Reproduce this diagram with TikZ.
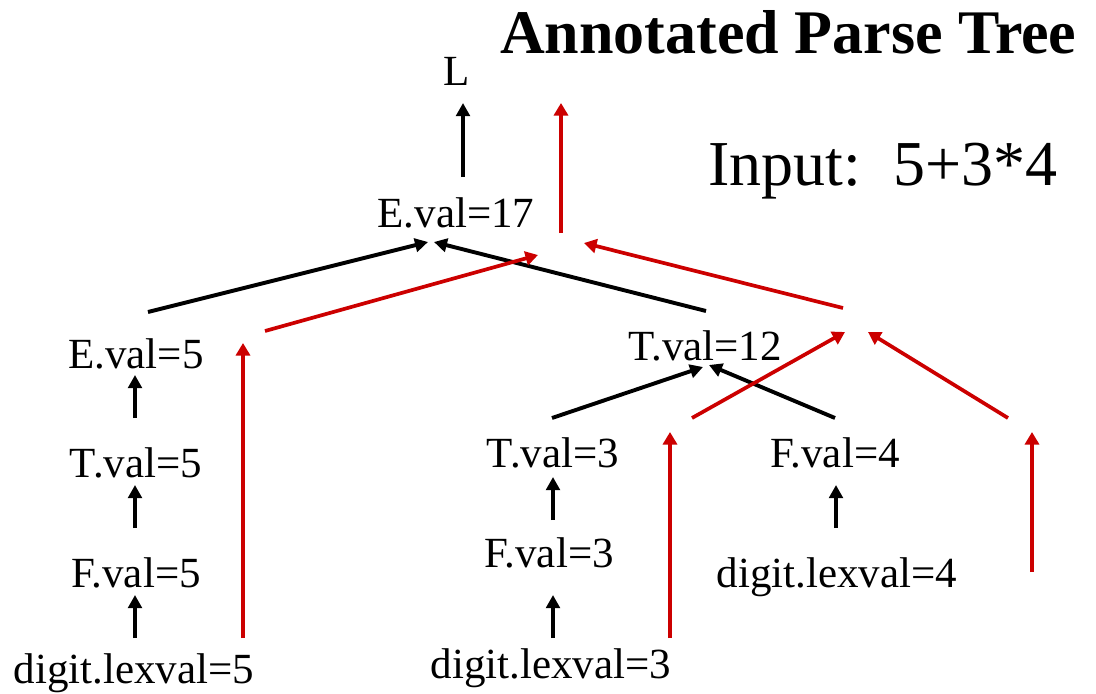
\documentclass[tikz,border=0pt]{standalone}
\usepackage{fontspec}
\setmainfont{Liberation Serif}
\usetikzlibrary{arrows.meta}
\definecolor{pred}{HTML}{CC0000}
\begin{document}
\begin{tikzpicture}[x=1pt,y=-1pt,
  lbl/.style={inner sep=0pt,outer sep=0pt,anchor=base,font=\fontsize{43}{50}\selectfont,text height=29pt,text depth=0pt},
  blk/.style={line width=3.9pt,-{Triangle[length=13pt,width=13.5pt]}},
  redarr/.style={draw=pred,line width=3.7pt,-{Triangle[length=12.5pt,width=14pt]}}]
\useasboundingbox[fill=white] (0,0) rectangle (1096,694);
% titles
\node[anchor=base west,inner sep=0pt,font=\bfseries\fontsize{62}{70}\selectfont] (title) at (500,53) {Annotated Parse Tree};
\node[anchor=base west,inner sep=0pt,font=\fontsize{64}{70}\selectfont] (input) at (708,185) {Input:\ \ 5+3*4};
% nodes
\node[lbl] (L) at (457,85) {L};
\node[lbl] (e17) at (456,227) {E.val=17};
\node[lbl] (e5) at (136,368) {E.val=5};
\node[lbl] (t5) at (136,477) {T.val=5};
\node[lbl] (f5) at (136,587) {F.val=5};
\node[lbl] (d5) at (134,683) {digit.lexval=5};
\node[lbl] (t12) at (705,360) {T.val=12};
\node[lbl] (t3) at (553,467) {T.val=3};
\node[lbl] (f3) at (549,567) {F.val=3};
\node[lbl] (d3) at (551,678) {digit.lexval=3};
\node[lbl] (f4) at (835,467) {F.val=4};
\node[lbl] (d4) at (837,587) {digit.lexval=4};
% black tree edges
\draw[blk] ([xshift=7pt,yshift=21pt]e17.north) -- ([xshift=6pt,yshift=-18pt]L.south);
\draw[blk] ([xshift=1pt,yshift=16pt]d5.north) -- ([xshift=-1pt,yshift=-8pt]f5.south);
\draw[blk] ([xshift=-1pt,yshift=30pt]f5.north) -- ([xshift=-1pt,yshift=-8pt]t5.south);
\draw[blk] ([xshift=-1pt,yshift=30pt]t5.north) -- ([xshift=-1pt,yshift=-7pt]e5.south);
\draw[blk] ([xshift=12pt,yshift=27pt]e5.north) -- ([xshift=-28pt,yshift=-15pt]e17.south);
\draw[blk] ([xshift=1pt,yshift=20pt]t12.north) -- ([xshift=-22pt,yshift=-15pt]e17.south);
\draw[blk] ([xshift=-1pt,yshift=20pt]t3.north) -- ([xshift=-2pt,yshift=-7pt]t12.south);
\draw[blk] ([xshift=0pt,yshift=20pt]f4.north) -- ([xshift=4pt,yshift=-5pt]t12.south);
\draw[blk] ([xshift=4pt,yshift=18pt]f3.north) -- ([xshift=0pt,yshift=-10pt]t3.south);
\draw[blk] ([xshift=2pt,yshift=11pt]d3.north) -- ([xshift=4pt,yshift=-28pt]f3.south);
\draw[blk] ([xshift=-1pt,yshift=30pt]d4.north) -- ([xshift=1pt,yshift=-18pt]f4.south);
% red evaluation flow points
\coordinate (r1a) at (243,638); \coordinate (r1b) at (243,343);
\coordinate (r2a) at (265,331); \coordinate (r2b) at (538,255);
\coordinate (r3a) at (561,233); \coordinate (r3b) at (561,103);
\coordinate (r4a) at (843,308); \coordinate (r4b) at (584,243);
\coordinate (r5a) at (670,638); \coordinate (r5b) at (670,432);
\coordinate (r6a) at (692,418); \coordinate (r6b) at (845,332);
\coordinate (r7a) at (1008,418); \coordinate (r7b) at (868,332);
\coordinate (r8a) at (1032,572); \coordinate (r8b) at (1032,432);
\draw[redarr] (r1a) -- (r1b);
\draw[redarr] (r2a) -- (r2b);
\draw[redarr] (r3a) -- (r3b);
\draw[redarr] (r4a) -- (r4b);
\draw[redarr] (r5a) -- (r5b);
\draw[redarr] (r6a) -- (r6b);
\draw[redarr] (r7a) -- (r7b);
\draw[redarr] (r8a) -- (r8b);
\end{tikzpicture}
\end{document}
